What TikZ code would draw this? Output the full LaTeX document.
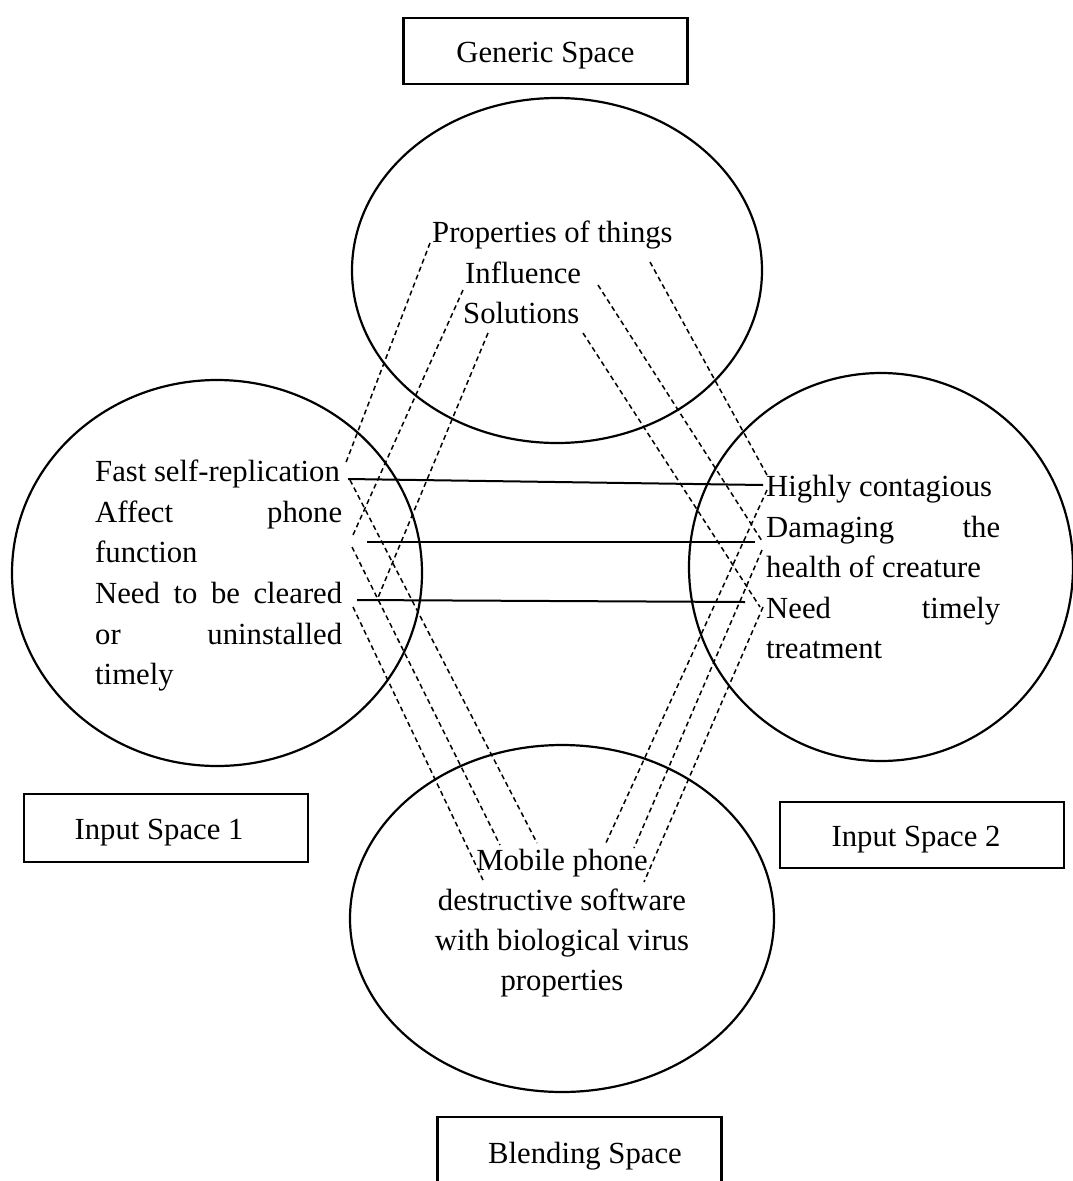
\documentclass[tikz,border=0pt]{standalone}
\usepackage{fontspec}
\setmainfont{Liberation Serif}
\usetikzlibrary{shapes.geometric}
\begin{document}
\begin{tikzpicture}[x=1pt,y=-1pt,
  spacering/.style={ellipse, draw, line width=2.2pt, inner sep=0pt},
  labelbox/.style={draw, line width=2.4pt, inner sep=0pt, minimum width=284pt,
    text height=25pt, text depth=3pt,
    font=\fontsize{30.7}{40.5}\selectfont},
  txt/.style={font=\fontsize{30.7}{40.5}\selectfont, inner sep=0pt, anchor=base west},
  ctxt/.style={font=\fontsize{30.7}{40.5}\selectfont, inner sep=0pt, anchor=base},
  link/.style={line width=1.5pt, dash pattern=on 5pt off 3.5pt},
  tie/.style={line width=2pt}]
\useasboundingbox (0,0) rectangle (1073,1181);
\fill[white] (0,0) rectangle (1073,1181);

% the four mental spaces
\node[spacering, minimum width=410pt, minimum height=345pt] (gen) at (557,270.5) {};
\node[spacering, minimum width=410pt, minimum height=386pt] (in1) at (217,573) {};
\node[spacering, minimum width=384pt, minimum height=388pt] (in2) at (881,567) {};
\node[spacering, minimum width=424pt, minimum height=347pt] (bl) at (562,918.5) {};

% captions
\node[labelbox, minimum height=66pt] (capgen) at (545.5,51) {Generic Space};
\node[labelbox, minimum height=68pt] (capin1) at (166,828) {Input Space 1\hspace*{14pt}};
\node[labelbox, minimum height=66pt] (capin2) at (922,835) {Input Space 2\hspace*{12pt}};
\node[labelbox, minimum height=70pt] (capbl) at (579.5,1152) {\hspace*{11pt}Blending Space};

% generic space contents
\node[txt] (g1) at (432,242) {Properties of things};
\node[txt] (g2) at (465,283) {Influence};
\node[txt] (g3) at (463,323) {Solutions};

% input space 1 contents
\node[txt] (a1) at (95,481) {Fast self-replication};
\node[txt] (a2) at (95,522) {\makebox[247pt][s]{Affect phone}};
\node[txt] (a3) at (95,562) {function};
\node[txt] (a4) at (95,603) {\makebox[247pt][s]{Need to be cleared}};
\node[txt] (a5) at (95,644) {\makebox[247pt][s]{or uninstalled}};
\node[txt] (a6) at (95,684) {timely};

% input space 2 contents
\node[txt] (b1) at (766,496) {Highly contagious};
\node[txt] (b2) at (766,537) {\makebox[234pt][s]{Damaging the}};
\node[txt] (b3) at (766,577) {health of creature};
\node[txt] (b4) at (766,618) {\makebox[234pt][s]{Need timely}};
\node[txt] (b5) at (766,658) {treatment};

% blended space contents
\node[ctxt] (m1) at (562,870) {Mobile phone};
\node[ctxt] (m2) at (562,910) {destructive software};
\node[ctxt] (m3) at (562,950) {with biological virus};
\node[ctxt] (m4) at (562,990) {properties};

% connector ends
\coordinate (gA) at (430,243);  \coordinate (iA) at (345,465);
\coordinate (gB) at (463,290);  \coordinate (iB) at (353,535);
\coordinate (gC) at (488,333);  \coordinate (iC) at (377,600);
\coordinate (gG) at (650,262);  \coordinate (jG) at (767,475);
\coordinate (gH) at (598,285);  \coordinate (jH) at (762,541);
\coordinate (gI) at (583,333);  \coordinate (jI) at (760,607);
\coordinate (iD) at (350,480);  \coordinate (mD) at (537,843);
\coordinate (iE) at (352,547);  \coordinate (mE) at (500,845);
\coordinate (iF) at (353,607);  \coordinate (mF) at (483,880);
\coordinate (jJ) at (767,490);  \coordinate (mJ) at (605,845);
\coordinate (jK) at (762,550);  \coordinate (mK) at (634,848);
\coordinate (jL) at (763,607);  \coordinate (mL) at (644,882);
\coordinate (s1a) at (348,479); \coordinate (s1b) at (763,485);
\coordinate (s2a) at (367,542); \coordinate (s2b) at (755,542);
\coordinate (s3a) at (357,600); \coordinate (s3b) at (745,602);

% generic space to the inputs
\draw[link] (gA) -- (iA);
\draw[link] (gB) -- (iB);
\draw[link] (gC) -- (iC);
\draw[link] (gG) -- (jG);
\draw[link] (gH) -- (jH);
\draw[link] (gI) -- (jI);
% inputs to the blend
\draw[link] (iD) -- (mD);
\draw[link] (iE) -- (mE);
\draw[link] (iF) -- (mF);
\draw[link] (jJ) -- (mJ);
\draw[link] (jK) -- (mK);
\draw[link] (jL) -- (mL);
% cross-space mapping
\draw[tie] (s1a) -- (s1b);
\draw[tie] (s2a) -- (s2b);
\draw[tie] (s3a) -- (s3b);
\end{tikzpicture}
\end{document}
